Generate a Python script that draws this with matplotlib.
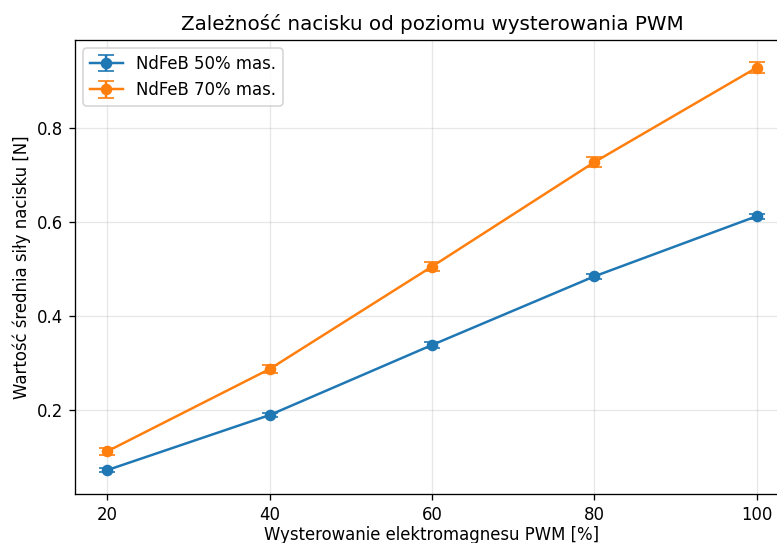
import matplotlib
matplotlib.use("Agg")
import matplotlib.pyplot as plt

# dane pomiarowe
pwm = [20, 40, 60, 80, 100]
sila_50 = [0.072, 0.189, 0.338, 0.484, 0.612]
err_50 = [0.005, 0.005, 0.006, 0.006, 0.005]
sila_70 = [0.112, 0.287, 0.505, 0.727, 0.928]
err_70 = [0.007, 0.008, 0.009, 0.011, 0.012]

# obraz jest powiekszony ~1.19x wzgledem domyslnego rozmiaru
DPI = 119
W, H = 777, 543
fig = plt.figure(figsize=(W / DPI, H / DPI), dpi=DPI)
ax = fig.add_axes([75 / W, (H - 494) / H, (789 - 75) / W, (494 - 40) / H])

ax.errorbar(pwm, sila_50, yerr=err_50, marker='o', capsize=5, label='NdFeB 50% mas.')
ax.errorbar(pwm, sila_70, yerr=err_70, marker='o', capsize=5, label='NdFeB 70% mas.')

ax.set_title('Zależność nacisku od poziomu wysterowania PWM', fontsize=12)
ax.set_xlabel('Wysterowanie elektromagnesu PWM [%]', labelpad=1.5)
ax.set_ylabel('Wartość średnia siły nacisku [N]')
ax.set_xlim(16, 104)
ax.set_ylim(0.021, 0.987)
ax.set_xticks(pwm)
ax.grid(True, alpha=0.3)
ax.legend(loc='upper left')

fig.savefig('out.png', dpi=DPI)
